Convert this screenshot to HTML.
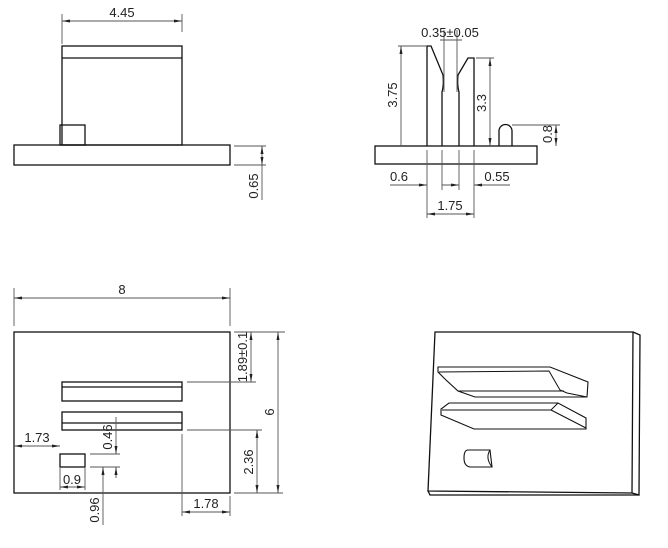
<!DOCTYPE html>
<html><head><meta charset="utf-8"><style>
html,body{margin:0;padding:0;background:#fff;}
svg{display:block;}
text{font-family:"Liberation Sans",sans-serif;font-size:13px;fill:#222;}
</style></head><body>
<svg width="668" height="548" viewBox="0 0 668 548" xmlns="http://www.w3.org/2000/svg">
<defs>
<marker id="a" markerWidth="8" markerHeight="6" refX="8" refY="3" orient="auto-start-reverse" markerUnits="userSpaceOnUse"><path d="M0,1.5 L8,3 L0,4.5 Z" fill="#222"/></marker>
</defs>
<g fill="none" stroke="#111" stroke-width="1.3">
<!-- top-left view -->
<rect x="62" y="46" width="120" height="99"/>
<line x1="62" y1="58" x2="182" y2="58"/>
<rect x="60" y="125" width="25" height="20"/>
<rect x="14" y="145" width="216" height="20"/>
<!-- top-right view -->
<rect x="375" y="146" width="162" height="18"/>
<path d="M427,146 L427,46 L431,46 L443,75 Q444,85 442,92 L442,146"/>
<path d="M474,146 L474,58 L468,58 L458,75 Q457,85 459,92 L459,146"/>
<path d="M499,146 L499,131 A6.5,6.5 0 0 1 512,131 L512,146"/>
<!-- bottom-left view -->
<rect x="14" y="332" width="216" height="161"/>
<rect x="62" y="382" width="120" height="19"/>
<line x1="62" y1="387" x2="182" y2="387"/>
<rect x="62" y="412" width="120" height="18"/>
<line x1="62" y1="423" x2="182" y2="423"/>
<rect x="60" y="454" width="25" height="13"/>
<!-- 3D view -->
<path d="M435,332 L633,332 L632,493 L428,491 Z"/>
<path d="M633,332 L640,335 L639,495 L632,493"/>
<path d="M428,491 L430,495 L639,495"/>
<path d="M438,367 L550,367 L588,382 L587,397 L475,397 L458,391 L446,380 L438,372 Z" stroke-width="1.1"/>
<path d="M439,372 L549,371 L560,390 L567,393 L587,397 M458,391 L564,391" stroke-width="1"/>
<path d="M449,403 L558,403 L586,418 L586,429 L474,429 L441,415 L441,409 Z" stroke-width="1.1"/>
<path d="M442,410 L551,410 L558,403 M551,410 L586,428" stroke-width="1"/>
<path d="M468,450 L490,450 L492,467 L470,467 Q464,466 464,458 Q464,450 468,450 Z" stroke-width="1.1"/>
<path d="M490,450 Q485,458 492,467" stroke-width="1"/>
</g>
<g fill="none" stroke="#555" stroke-width="0.9">
<!-- 4.45 -->
<line x1="62" y1="14" x2="62" y2="44"/><line x1="182" y1="14" x2="182" y2="32"/>
<line x1="62" y1="21" x2="182" y2="21" marker-start="url(#a)" marker-end="url(#a)"/>
<!-- 0.65 -->
<line x1="234" y1="146" x2="266" y2="146"/><line x1="234" y1="165" x2="266" y2="165"/>
<line x1="262" y1="146" x2="262" y2="200"/>
<line x1="262" y1="150" x2="262" y2="146" marker-end="url(#a)"/>
<line x1="262" y1="160" x2="262" y2="165" marker-end="url(#a)"/>
<!-- 3.75 -->
<line x1="398" y1="46" x2="427" y2="46"/>
<line x1="401" y1="46" x2="401" y2="146" marker-start="url(#a)"/>
<!-- 3.3 -->
<line x1="476" y1="58" x2="494" y2="58"/>
<line x1="490" y1="58" x2="490" y2="146" marker-start="url(#a)" marker-end="url(#a)"/>
<!-- 0.8 -->
<line x1="512" y1="125" x2="560" y2="125"/>
<line x1="556" y1="125" x2="556" y2="146" marker-start="url(#a)" marker-end="url(#a)"/>
<!-- 0.35 -->
<line x1="444" y1="30" x2="444" y2="92"/><line x1="457" y1="30" x2="457" y2="92"/>
<line x1="440" y1="40" x2="462" y2="40"/>
<!-- bottom ext lines -->
<line x1="427" y1="150" x2="427" y2="218"/><line x1="442" y1="150" x2="442" y2="190"/>
<line x1="459" y1="150" x2="459" y2="190"/><line x1="474" y1="150" x2="474" y2="218"/>
<line x1="390" y1="185" x2="427" y2="185" marker-end="url(#a)"/>
<line x1="442" y1="185" x2="459" y2="185" marker-end="url(#a)"/>
<line x1="510" y1="185" x2="474" y2="185" marker-end="url(#a)"/>
<line x1="427" y1="214" x2="474" y2="214" marker-start="url(#a)" marker-end="url(#a)"/>
<!-- 8 -->
<line x1="14" y1="288" x2="14" y2="326"/><line x1="230" y1="288" x2="230" y2="326"/>
<line x1="14" y1="298" x2="230" y2="298" marker-start="url(#a)" marker-end="url(#a)"/>
<!-- 1.89 -->
<line x1="234" y1="332" x2="285" y2="332"/><line x1="187" y1="382" x2="256" y2="382"/>
<line x1="251" y1="332" x2="251" y2="382" marker-start="url(#a)" marker-end="url(#a)"/>
<!-- 6 -->
<line x1="234" y1="493" x2="283" y2="493"/>
<line x1="278" y1="332" x2="278" y2="493" marker-start="url(#a)" marker-end="url(#a)"/>
<!-- 2.36 -->
<line x1="187" y1="430" x2="262" y2="430"/>
<line x1="257" y1="430" x2="257" y2="493" marker-start="url(#a)" marker-end="url(#a)"/>
<!-- 1.78 -->
<line x1="182" y1="434" x2="182" y2="516"/><line x1="230" y1="496" x2="230" y2="516"/>
<line x1="182" y1="512" x2="230" y2="512" marker-start="url(#a)" marker-end="url(#a)"/>
<!-- 1.73 -->
<line x1="14" y1="446" x2="60" y2="446" marker-start="url(#a)" marker-end="url(#a)"/>
<!-- 0.9 -->
<line x1="60" y1="468" x2="60" y2="490"/><line x1="85" y1="468" x2="85" y2="490"/>
<line x1="60" y1="487" x2="85" y2="487" marker-start="url(#a)" marker-end="url(#a)"/>
<!-- 0.46 -->
<line x1="90" y1="454" x2="120" y2="454"/><line x1="90" y1="467" x2="120" y2="467"/>
<line x1="116" y1="417" x2="116" y2="454" marker-end="url(#a)"/>
<line x1="116" y1="478" x2="116" y2="467" marker-end="url(#a)"/>
<!-- 0.96 -->
<line x1="103" y1="525" x2="103" y2="467" marker-end="url(#a)"/>
</g>
<g>
<text x="122" y="17" text-anchor="middle">4.45</text>
<text transform="translate(258,186) rotate(-90)" text-anchor="middle">0.65</text>
<text x="450" y="37" text-anchor="middle">0.35±0.05</text>
<text transform="translate(397,95) rotate(-90)" text-anchor="middle">3.75</text>
<text transform="translate(486,103) rotate(-90)" text-anchor="middle">3.3</text>
<text transform="translate(552,134) rotate(-90)" text-anchor="middle">0.8</text>
<text x="399" y="181" text-anchor="middle">0.6</text>
<text x="497" y="181" text-anchor="middle">0.55</text>
<text x="450" y="210" text-anchor="middle">1.75</text>
<text x="122" y="294" text-anchor="middle">8</text>
<text transform="translate(247,357) rotate(-90)" text-anchor="middle">1.89±0.1</text>
<text transform="translate(274,412) rotate(-90)" text-anchor="middle">6</text>
<text transform="translate(253,462) rotate(-90)" text-anchor="middle">2.36</text>
<text x="206" y="508" text-anchor="middle">1.78</text>
<text x="37" y="442" text-anchor="middle">1.73</text>
<text x="72" y="484" text-anchor="middle">0.9</text>
<text transform="translate(112,437) rotate(-90)" text-anchor="middle">0.46</text>
<text transform="translate(99,510) rotate(-90)" text-anchor="middle">0.96</text>
</g>
</svg>
</body></html>
